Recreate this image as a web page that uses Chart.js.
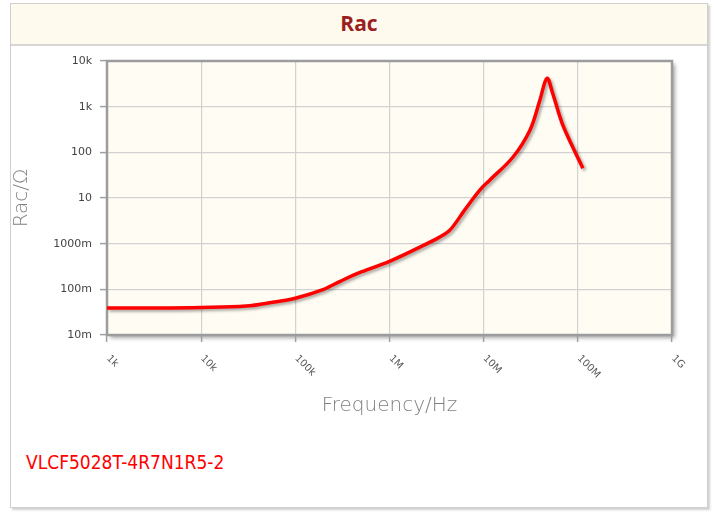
<!DOCTYPE html>
<html>
<head>
<meta charset="utf-8">
<script src="https://cdn.jsdelivr.net/npm/chart.js@4/dist/chart.umd.min.js"></script>
<style>
  html, body { margin: 0; padding: 0; background: #ffffff; }
  body { width: 717px; height: 512px; position: relative; overflow: hidden; }
  #frame { position: absolute; left: 10px; top: 3px; width: 696px; height: 503px;
           border: 1px solid #cfcfcf; box-shadow: 2px 2px 2px #d0d0d0; background: #fff; }
  #titlebar { position: absolute; left: 0; top: 0; width: 696px; height: 40px;
              background: #fefaee; border-bottom: 2px solid #d6d6d6; }
  #title { position: absolute; left: 0; width: 696px; top: 6px; text-align: center;
           font-family: 'Open Sans', sans-serif; font-weight: 700; font-size: 21px;
           line-height: 26px; color: #9b1f1f; }
  #part { position: absolute; left: 26px; top: 451px; font-family: 'DejaVu Sans Condensed', 'DejaVu Sans', sans-serif;
          font-size: 19px; line-height: 22px; color: #ff0000; }
  #c { position: absolute; left: 0; top: 0; }
</style>
</head>
<body>
<div id="frame"><div id="titlebar"><div id="title">Rac</div></div></div>
<div id="part">VLCF5028T-4R7N1R5-2</div>
<canvas id="c" width="717" height="512"></canvas>
<script>
// ---- data ----
const freqHz = [1e3, 3e3, 1e4, 3e4, 6e4, 1e5, 2e5, 3e5, 5e5, 1e6, 2e6, 3.4e6, 4.4e6, 6.3e6, 9.1e6, 1.16e7, 2.04e7, 3.1e7, 3.95e7, 4.7e7, 5.4e7, 6.8e7, 8.85e7, 1.13e8];
const racOhm = [0.039, 0.039, 0.040, 0.043, 0.053, 0.064, 0.10, 0.15, 0.24, 0.41, 0.80, 1.39, 2.0, 5.5, 14.9, 24.6, 78, 306, 1380, 4170, 1970, 436, 129, 45];
const xTickValues = [1e3, 1e4, 1e5, 1e6, 1e7, 1e8, 1e9];
const xTickLabels = ['1k', '10k', '100k', '1M', '10M', '100M', '1G'];
const yTickValues = [0.01, 0.1, 1, 10, 100, 1000, 10000];
const yTickLabels = ['10m', '100m', '1000m', '10', '100', '1k', '10k'];
const seriesName = 'VLCF5028T-4R7N1R5-2';

const points = freqHz.map((f, i) => ({ x: f, y: racOhm[i] }));

const areaPlugin = {
  id: 'areaPlugin',
  beforeDraw(chart) {
    const { ctx, chartArea: a } = chart;
    ctx.save();
    ctx.shadowColor = 'rgba(0,0,0,0.35)';
    ctx.shadowBlur = 4;
    ctx.shadowOffsetX = 3;
    ctx.shadowOffsetY = 3;
    ctx.fillStyle = '#fffcf3';
    ctx.fillRect(a.left, a.top, a.right - a.left, a.bottom - a.top);
    ctx.restore();
  },
  beforeDatasetsDraw(chart) {
    const { ctx, chartArea: a } = chart;
    ctx.save();
    ctx.strokeStyle = '#9c9c9c';
    ctx.lineWidth = 2.5;
    ctx.strokeRect(a.left, a.top, a.right - a.left, a.bottom - a.top);
    ctx.restore();
  },
  beforeDatasetDraw(chart) {
    const ctx = chart.ctx;
    ctx.save();
    ctx.shadowColor = 'rgba(0,0,0,0.35)';
    ctx.shadowBlur = 3;
    ctx.shadowOffsetX = 2;
    ctx.shadowOffsetY = 2;
  },
  afterDatasetDraw(chart) {
    chart.ctx.restore();
  },
  afterDraw(chart) {
    const { ctx } = chart;
    const xs = chart.scales.x;
    ctx.save();
    ctx.fillStyle = '#555';
    ctx.font = '10px "DejaVu Sans"';
    ctx.textAlign = 'left';
    ctx.textBaseline = 'middle';
    xTickValues.forEach((v, i) => {
      const px = xs.getPixelForValue(v);
      ctx.save();
      ctx.translate(px + 1, xs.top + 22);
      ctx.rotate(Math.PI / 4);
      ctx.fillText(xTickLabels[i], 0, 0);
      ctx.restore();
    });
    ctx.restore();
  }
};

Chart.defaults.font.family = '"DejaVu Sans", sans-serif';

new Chart(document.getElementById('c'), {
  type: 'line',
  data: {
    datasets: [{
      label: seriesName,
      data: points,
      borderColor: '#ff0000',
      borderWidth: 3.5,
      pointRadius: 0,
      fill: false,
      tension: 0.35
    }]
  },
  options: {
    responsive: false,
    animation: false,
    events: [],
    layout: { padding: { left: 0, top: 61, right: 45, bottom: 94 } },
    plugins: { legend: { display: false }, tooltip: { enabled: false }, title: { display: false } },
    scales: {
      x: {
        type: 'logarithmic',
        min: 1e3, max: 1e9,
        afterBuildTicks(s) { s.ticks = xTickValues.map(v => ({ value: v })); },
        afterFit(s) { s.height = 83; },
        ticks: { display: false },
        grid: { color: '#d2d2d2', lineWidth: 1.2, tickLength: 7, tickColor: '#a0a0a0', tickWidth: 1.5 },
        border: { display: false },
        title: { display: true, text: 'Frequency/Hz', color: '#808080', font: { size: 20, weight: 300 }, padding: { top: 0, bottom: 0 } }
      },
      y: {
        type: 'logarithmic',
        min: 0.01, max: 10000,
        afterBuildTicks(s) { s.ticks = yTickValues.map(v => ({ value: v })); },
        afterFit(s) { s.width = 107; },
        ticks: {
          padding: 8, color: '#444', font: { size: 11 },
          callback(v) { const i = yTickValues.indexOf(v); return i >= 0 ? yTickLabels[i] : ''; }
        },
        grid: { color: '#d2d2d2', lineWidth: 1.2, tickLength: 7, tickColor: '#a0a0a0', tickWidth: 1.5 },
        border: { display: false },
        title: { display: true, text: 'Rac/Ω', color: '#808080', font: { size: 20, weight: 300 }, padding: { top: 10, bottom: 0 } }
      }
    }
  },
  plugins: [areaPlugin]
});
</script>
</body>
</html>
